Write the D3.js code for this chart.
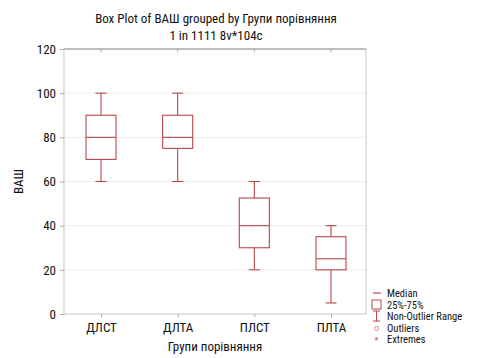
<!DOCTYPE html>
<html><head><meta charset="utf-8">
<script src="https://cdn.jsdelivr.net/npm/d3@7"></script>
<style>
body{margin:0;background:#fff;}
text{font-family:"Liberation Sans Narrow","Arial Narrow","Roboto Condensed","Liberation Sans",sans-serif;}
</style></head><body>
<svg id="c" width="478" height="358"></svg>
<script>
const categories = ["ДЛСТ","ДЛТА","ПЛСТ","ПЛТА"];
const whiskerLow  = [60, 60, 20, 5];
const q1          = [70, 75, 30, 20];
const median      = [80, 80, 40, 25];
const q3          = [90, 90, 52.5, 35];
const whiskerHigh = [100, 100, 60, 40];
const yTicks = [0,20,40,60,80,100,120];
const legendLabels = ["Median","25%-75%","Non-Outlier Range","Outliers","Extremes"];

const svg = d3.select("#c");
const red = "#b8474a";
const L=64, R=366, T=49, B=314;
const x = d3.scalePoint().domain(categories).range([101, 331]);
const y = d3.scaleLinear().domain([0,120]).range([B, T]);

// gridlines
svg.append("g").selectAll("line").data(yTicks.slice(1,-1)).join("line")
  .attr("x1",L).attr("x2",R).attr("y1",d=>y(d)).attr("y2",d=>y(d))
  .attr("stroke","#ececec").attr("stroke-width",1);

// frame
svg.append("rect").attr("x",L).attr("y",T).attr("width",R-L).attr("height",B-T)
  .attr("fill","none").attr("stroke","#c8c8c8").attr("stroke-width",1);
svg.append("line").attr("x1",L).attr("x2",R).attr("y1",T).attr("y2",T).attr("stroke","#999");

// y axis
const ya = svg.append("g").attr("transform",`translate(${L},0)`)
  .call(d3.axisLeft(y).tickValues(yTicks).tickSize(4).tickPadding(4));
ya.select(".domain").remove();
ya.selectAll("line").attr("stroke","#aaa");
ya.selectAll("text").attr("font-size",13).attr("fill","#111");

// x axis
const xa = svg.append("g").attr("transform",`translate(0,${B})`)
  .call(d3.axisBottom(x).tickSize(3).tickPadding(6));
xa.select(".domain").remove();
xa.selectAll("line").attr("stroke","#aaa");
xa.selectAll("text").attr("font-size",13).attr("fill","#111");
// top ticks
svg.append("g").selectAll("line").data(categories).join("line")
  .attr("x1",d=>x(d)).attr("x2",d=>x(d))
  .attr("y1",T).attr("y2",T+3).attr("stroke","#aaa");

// boxes
const boxW = 30, capW = 11;
const g = svg.append("g");
categories.forEach((c,i)=>{
  const cx = x(c);
  const gg = g.append("g").attr("stroke",red).attr("fill","none").attr("stroke-width",1.1);
  gg.append("line").attr("x1",cx).attr("x2",cx).attr("y1",y(whiskerHigh[i])).attr("y2",y(q3[i]));
  gg.append("line").attr("x1",cx).attr("x2",cx).attr("y1",y(q1[i])).attr("y2",y(whiskerLow[i]));
  gg.append("line").attr("x1",cx-capW/2).attr("x2",cx+capW/2).attr("y1",y(whiskerHigh[i])).attr("y2",y(whiskerHigh[i]));
  gg.append("line").attr("x1",cx-capW/2).attr("x2",cx+capW/2).attr("y1",y(whiskerLow[i])).attr("y2",y(whiskerLow[i]));
  gg.append("rect").attr("x",cx-boxW/2).attr("y",y(q3[i])).attr("width",boxW).attr("height",y(q1[i])-y(q3[i]));
  gg.append("line").attr("x1",cx-boxW/2).attr("x2",cx+boxW/2).attr("y1",y(median[i])).attr("y2",y(median[i]));
});

// titles
svg.append("text").attr("x",216).attr("y",23).attr("text-anchor","middle").attr("font-size",13).attr("fill","#111")
  .text("Box Plot of ВАШ grouped by Групи порівняння");
svg.append("text").attr("x",216).attr("y",40).attr("text-anchor","middle").attr("font-size",13).attr("fill","#111")
  .text("1 in 1111 8v*104c");
svg.append("text").attr("x",(L+R)/2).attr("y",351).attr("text-anchor","middle").attr("font-size",13).attr("fill","#111")
  .text("Групи порівняння");
svg.append("text").attr("transform",`translate(23,${(T+B)/2}) rotate(-90)`).attr("text-anchor","middle").attr("font-size",13).attr("fill","#111")
  .text("ВАШ");

// legend
const lx = 373, ly0 = 293, ldy = 11.5;
const lg = svg.append("g");
legendLabels.forEach((t,i)=>{
  const yy = ly0 + i*ldy;
  lg.append("text").attr("x",lx+14).attr("y",yy+4).attr("font-size",10.5).attr("fill","#111").text(t);
});
lg.append("line").attr("x1",lx).attr("x2",lx+8).attr("y1",ly0).attr("y2",ly0).attr("stroke",red).attr("stroke-width",1.2);
lg.append("rect").attr("x",lx-1).attr("y",ly0+ldy-4.5).attr("width",9).attr("height",9).attr("fill","none").attr("stroke",red);
const wy = ly0+2*ldy;
lg.append("line").attr("x1",lx+3.5).attr("x2",lx+3.5).attr("y1",wy-5).attr("y2",wy+5).attr("stroke",red);
lg.append("line").attr("x1",lx).attr("x2",lx+7).attr("y1",wy-5).attr("y2",wy-5).attr("stroke",red);
lg.append("line").attr("x1",lx).attr("x2",lx+7).attr("y1",wy+5).attr("y2",wy+5).attr("stroke",red);
lg.append("circle").attr("cx",lx+3.5).attr("cy",ly0+3*ldy+1).attr("r",2).attr("fill","none").attr("stroke","#c98a8a");
lg.append("text").attr("x",lx+3.5).attr("y",ly0+4*ldy+4.5).attr("text-anchor","middle").attr("font-size",9).attr("fill","#c25a5a").text("*");
</script></body></html>
